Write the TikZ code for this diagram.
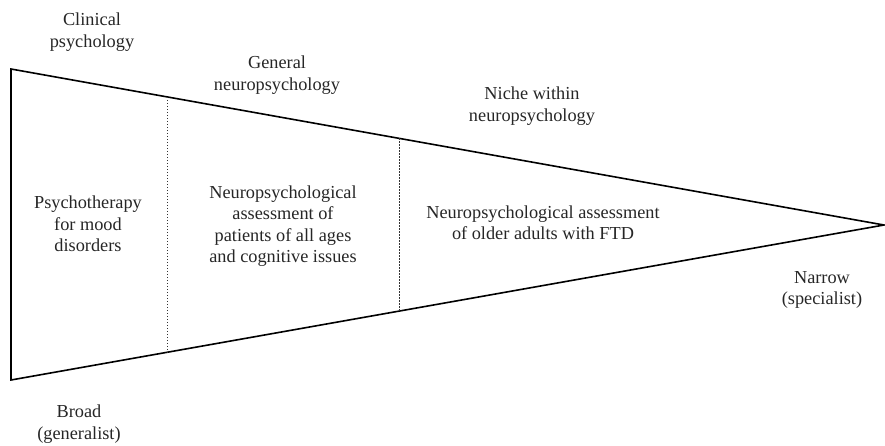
\documentclass[tikz,border=0pt]{standalone}
\usepackage{fontspec}
\setmainfont{Liberation Serif}
\usetikzlibrary{calc}
\begin{document}
\begin{tikzpicture}[x=1pt,y=-1pt,
  lbl/.style={align=center,font=\fontsize{18.3}{21.3}\selectfont,inner sep=0pt,text=black!85},
  edge/.style={line width=1.6pt,line join=miter},
  divider/.style={line width=0.8pt,dash pattern=on 1.6pt off 1.4pt,black!80}]
\useasboundingbox (0,0) rectangle (885,445);
\coordinate (tl) at (11,69);
\coordinate (bl) at (11,380);
\coordinate (apex) at (884,225);
\draw[edge] (apex) -- (tl) -- (bl) -- cycle;
\coordinate (d1t) at ($(tl)!0.1787!(apex)$);
\coordinate (d1b) at ($(bl)!0.1787!(apex)$);
\coordinate (d2t) at ($(tl)!0.4444!(apex)$);
\coordinate (d2b) at ($(bl)!0.4444!(apex)$);
\draw[divider] (d1t) -- (d1b);
\draw[divider] (d2t) -- (d2b);
\node[lbl] (clin) at (92,32) {Clinical\\psychology};
\node[lbl] (gen) at (277,75) {General\\neuropsychology};
\node[lbl] (niche) at (532,106) {Niche within\\neuropsychology};
\node[lbl] (psy) at (88,224) {Psychotherapy\\for mood\\disorders};
\node[lbl] (npa) at (283,226) {Neuropsychological\\assessment of\\patients of all ages\\and cognitive issues};
\node[lbl] (ftd) at (543,223) {Neuropsychological assessment\\of older adults with FTD};
\node[lbl] (narrow) at (822,290) {Narrow\\(specialist)};
\node[lbl] (broad) at (79,424) {Broad\\(generalist)};
\end{tikzpicture}
\end{document}
